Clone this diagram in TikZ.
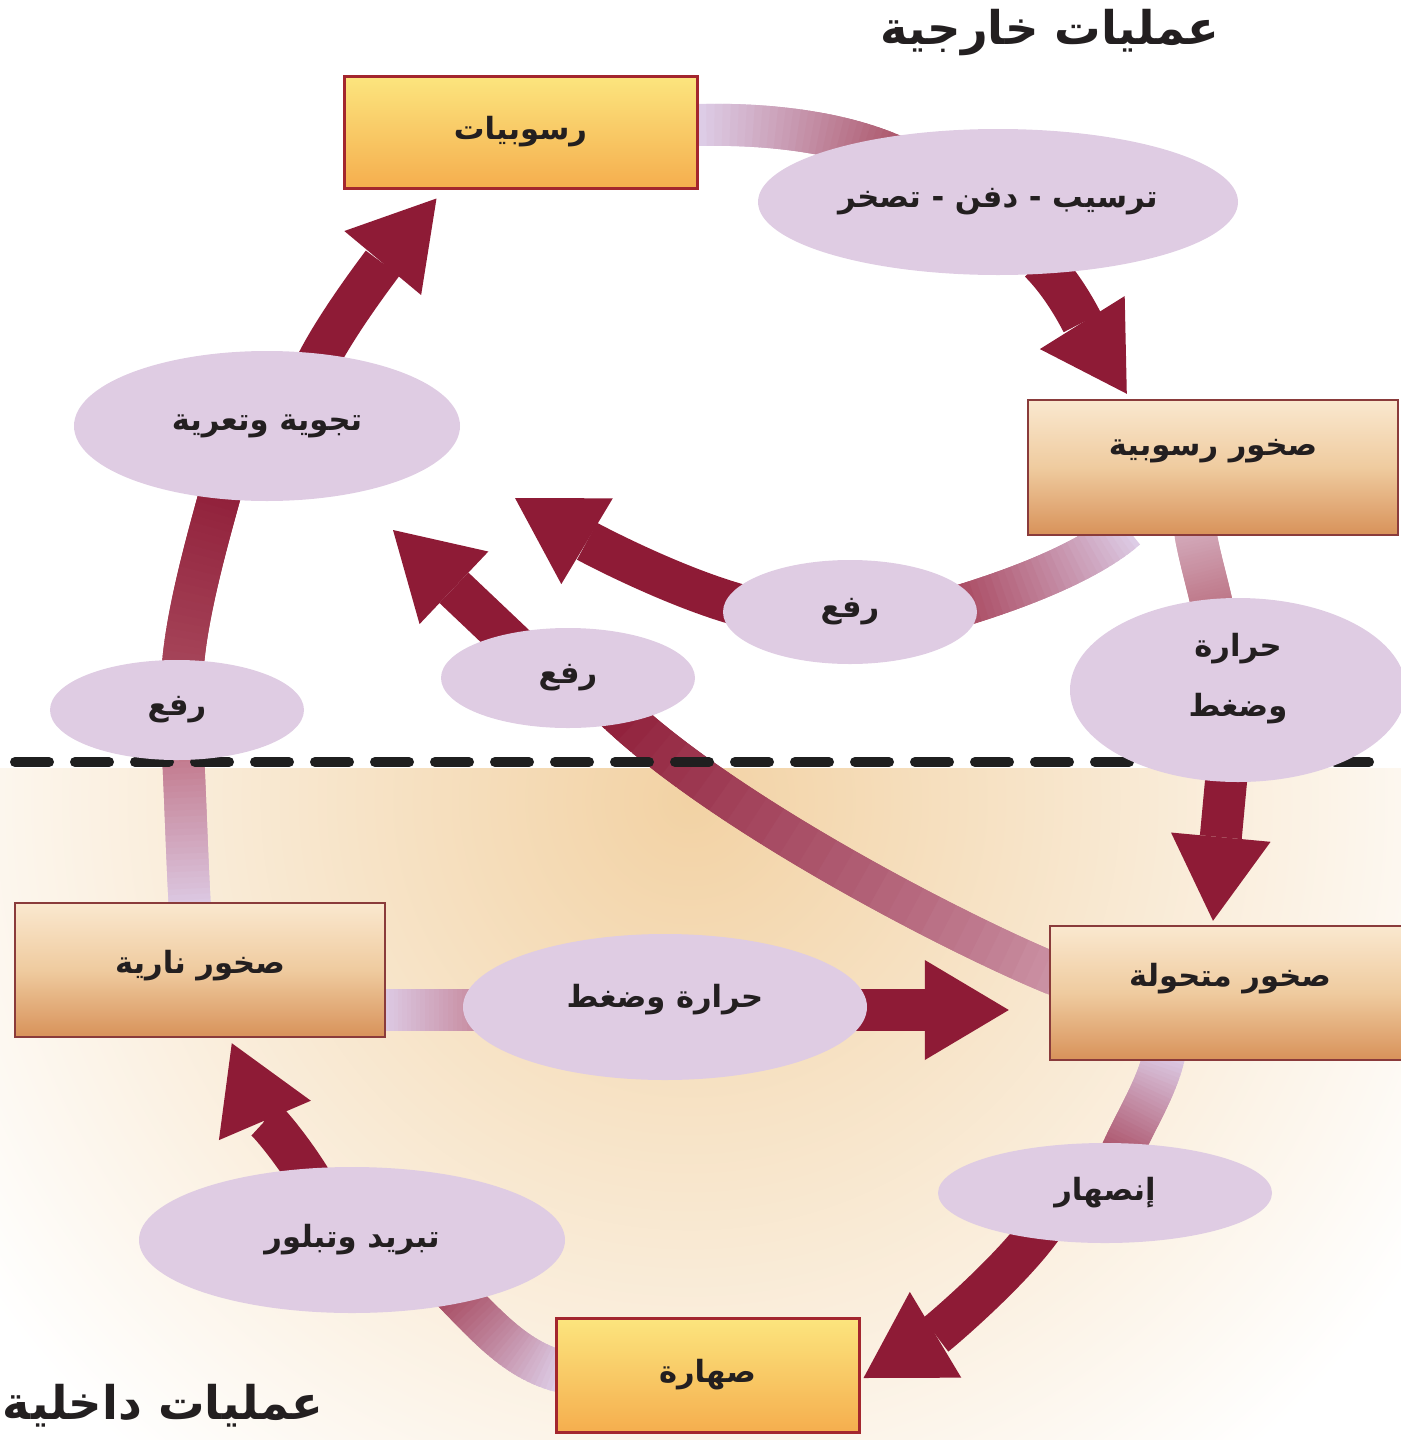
\documentclass[tikz,border=0pt]{standalone}
\usepackage{fontspec}
\usetikzlibrary{arrows.meta,shapes.geometric,calc}
\TeXXeTstate=1
\newfontfamily\arabicfont[Script=Arabic]{DejaVu Sans}
\newcommand\artxt[1]{{\arabicfont\bfseries\beginR #1\endR}}
\newcommand\lblfont{\fontsize{15.3pt}{30pt}\selectfont}
\newcommand\ttlfont{\fontsize{23.2pt}{28pt}\selectfont}
\definecolor{dred}{HTML}{8E1B36}
\definecolor{lav}{HTML}{DFCCE3}
\definecolor{bandlav}{HTML}{DDCCE6}
\definecolor{yelTop}{HTML}{FCE57E}
\definecolor{yelBot}{HTML}{F5AE4E}
\definecolor{tanTop}{HTML}{FAE8CF}
\definecolor{tanMid}{HTML}{EFCB9F}
\definecolor{tanBot}{HTML}{D8925A}
\definecolor{yelBorder}{HTML}{A3262E}
\definecolor{tanBorder}{HTML}{8A3B3B}
\definecolor{bgIn}{HTML}{F2D2A4}
\definecolor{txt}{HTML}{231F20}
\definecolor{bandA}{HTML}{A74A5E}
\definecolor{bandCa}{HTML}{D3A9BA}
\definecolor{bandCb}{HTML}{B76778}
\definecolor{bandE}{HTML}{A3384F}
\definecolor{bandGa}{HTML}{CD96A8}
\definecolor{bandI}{HTML}{A03A50}
\definecolor{bandK}{HTML}{BD6F81}
\definecolor{bandM}{HTML}{A5435A}
\definecolor{bandPa}{HTML}{A8495D}
\definecolor{bandQ}{HTML}{BE6B7D}
\pgfdeclarelayer{bg}
\pgfsetlayers{bg,main}
% gradient band: start, ctrl1 (rel. start), ctrl2 (rel. end), end, start colour, end colour
\newcommand\gband[6]{%
  \foreach \k [evaluate=\k as \p using \k/30] in {0,...,30}{
    \path #1 .. controls +#2 and +#3 .. #4 coordinate[pos=\p] (gb\k);
  }
  \foreach \k [evaluate=\k as \pc using {int(100-\k*100/30)}, evaluate=\k as \nx using {int(min(\k+2,30))}] in {0,...,29}{
    \draw[line width=21pt, line cap=butt, color=#5!\pc!#6] (gb\k) -- (gb\nx);
  }
}
\begin{document}
\begin{tikzpicture}[x=0.5pt,y=-0.5pt,
  ell/.style={ellipse, fill=lav, draw=none, inner sep=0pt, align=center, text=txt, font=\lblfont},
  ybox/.style={rectangle, draw=yelBorder, line width=1.5pt, top color=yelTop, bottom color=yelBot, inner sep=0pt, text=txt, font=\lblfont},
  tbox/.style={rectangle, draw=tanBorder, line width=1.2pt, top color=tanTop, bottom color=tanBot, middle color=tanMid, inner sep=0pt, text=txt, font=\lblfont},
  ttl/.style={inner sep=0pt, text=txt, font=\ttlfont},
  rarrow/.style={draw=dred, line width=21pt, line cap=butt, -{Triangle[width=50pt,length=42pt,line width=0pt]}},
  sep/.style={line width=5pt, dash pattern=on 17pt off 13pt, line cap=round, color=black!88}]
\useasboundingbox (0,0) rectangle (1401,1440);

% titles
\node[ttl] (t1) at (1050,33) {\artxt{عمليات خارجية}};
\node[ttl] (t2) at (163,1406) {\artxt{عمليات داخلية}};

% boxes
\node[ybox, minimum width=176.5pt, minimum height=56pt] (sed) at (520.5,132) {\artxt{رسوبيات}};
\node[tbox, minimum width=185pt, minimum height=67.5pt] (sedrock) at (1213,467.5) {\raisebox{20pt}{\artxt{صخور رسوبية}}};
\node[tbox, minimum width=180pt, minimum height=67pt] (meta) at (1230,993) {\raisebox{18pt}{\artxt{صخور متحولة}}};
\node[tbox, minimum width=185pt, minimum height=67pt] (ign) at (200,970) {\raisebox{8pt}{\artxt{صخور نارية}}};
\node[ybox, minimum width=151.5pt, minimum height=57pt] (magma) at (707.5,1375) {\raisebox{-6pt}{\artxt{صهارة}}};

% ellipses
\node[ell, minimum width=240pt, minimum height=73pt] (e1) at (998,202) {\artxt{ترسيب - دفن - تصخر}};
\node[ell, minimum width=193pt, minimum height=75pt] (e2) at (267,426) {\artxt{تجوية وتعرية}};
\node[ell, minimum width=127pt, minimum height=50pt] (e3) at (177,710) {\artxt{رفع}};
\node[ell, minimum width=127pt, minimum height=50pt] (e4) at (568,678) {\artxt{رفع}};
\node[ell, minimum width=127pt, minimum height=52pt] (e5) at (850,612) {\artxt{رفع}};
\node[ell, minimum width=168pt, minimum height=92pt] (e6) at (1238,690) {\raisebox{30pt}{\parbox{60pt}{\centering\artxt{حرارة}\\\artxt{وضغط}}}};
\node[ell, minimum width=202pt, minimum height=73pt] (e7) at (665,1007) {\raisebox{11pt}{\artxt{حرارة وضغط}}};
\node[ell, minimum width=167pt, minimum height=50pt] (e8) at (1105,1193) {\artxt{إنصهار}};
\node[ell, minimum width=213pt, minimum height=73pt] (e9) at (352,1240) {\artxt{تبريد وتبلور}};

\coordinate (t5) at (515,498);
\coordinate (t4) at (393,530);
\coordinate (dl) at (15,762);
\coordinate (dr) at (1392,762);

\begin{pgfonlayer}{bg}
  % lower background
  \begin{scope}
    \clip (0,768) rectangle (1401,1440);
    \shade[inner color=bgIn, outer color=white] (690,800) circle[radius=430pt];
  \end{scope}

  % gradient bands
  \gband{($(sed.east)+(0,-7)$)}{(80,-2)}{(-50,-25)}{($(e1.center)+(-95,-42)$)}{bandlav}{bandA}
  \gband{($(sedrock.south)+(-18,-5)$)}{(5,30)}{(-5,-30)}{($(e6.center)+(-22,-65)$)}{bandCa}{bandCb}
  \gband{($(sedrock.south west)+(100,-8)$)}{(-40,35)}{(70,-20)}{($(e5.center)+(90,0)$)}{bandlav}{bandE}
  \gband{($(meta.west)+(15,-15)$)}{(-90,-35)}{(110,110)}{($(e4.center)+(40,25)$)}{bandGa}{dred}
  \gband{($(magma.west)+(8,-3)$)}{(-50,-12)}{(45,45)}{($(e9.center)+(85,35)$)}{bandlav}{bandI}
  \gband{($(ign.east)+(-5,40)$)}{(40,0)}{(-40,0)}{($(e7.center)+(-150,3)$)}{bandlav}{bandK}
  \gband{($(meta.south)+(-65,-10)$)}{(-8,40)}{(15,-40)}{($(e8.center)+(10,-25)$)}{bandlav}{bandM}
  \gband{($(e3.center)+(5,-25)$)}{(0,-60)}{(-15,55)}{($(e2.center)+(-42,50)$)}{bandPa}{dred}
  \gband{($(ign.north)+(-10,8)$)}{(-3,-50)}{(3,50)}{($(e3.center)+(5,25)$)}{bandlav}{bandQ}

  % solid arrows
  \draw[rarrow] ($(e1.center)+(42,60)$) .. controls +(25,25) and +(-45,-72) .. ($(sedrock.north west)+(100,-5)$);
  \draw[rarrow] ($(e6.center)+(-10,70)$) -- ($(meta.north)+(-17,-4)$);
  \draw[rarrow] ($(e5.center)+(-60,2)$) .. controls +(-70,-2) and +(75,45) .. (t5);
  \draw[rarrow] ($(e4.center)+(-40,-20)$) -- (t4);
  \draw[rarrow] ($(e9.center)+(-30,-40)$) .. controls +(-20,-40) and +(30,70) .. ($(ign.south west)+(218,5)$);
  \draw[rarrow] ($(e7.center)+(150,3)$) -- ($(meta.west)+(-40,17)$);
  \draw[rarrow] ($(e8.center)+(-60,30)$) .. controls +(-30,45) and +(75,-45) .. ($(magma.east)+(3,3)$);
  \draw[rarrow] ($(e2.center)+(40,-40)$) .. controls +(15,-45) and +(-50,60) .. ($(sed.south west)+(94,9)$);

  % separator
  \draw[sep] (dl) -- (dr);
\end{pgfonlayer}
\end{tikzpicture}
\end{document}
